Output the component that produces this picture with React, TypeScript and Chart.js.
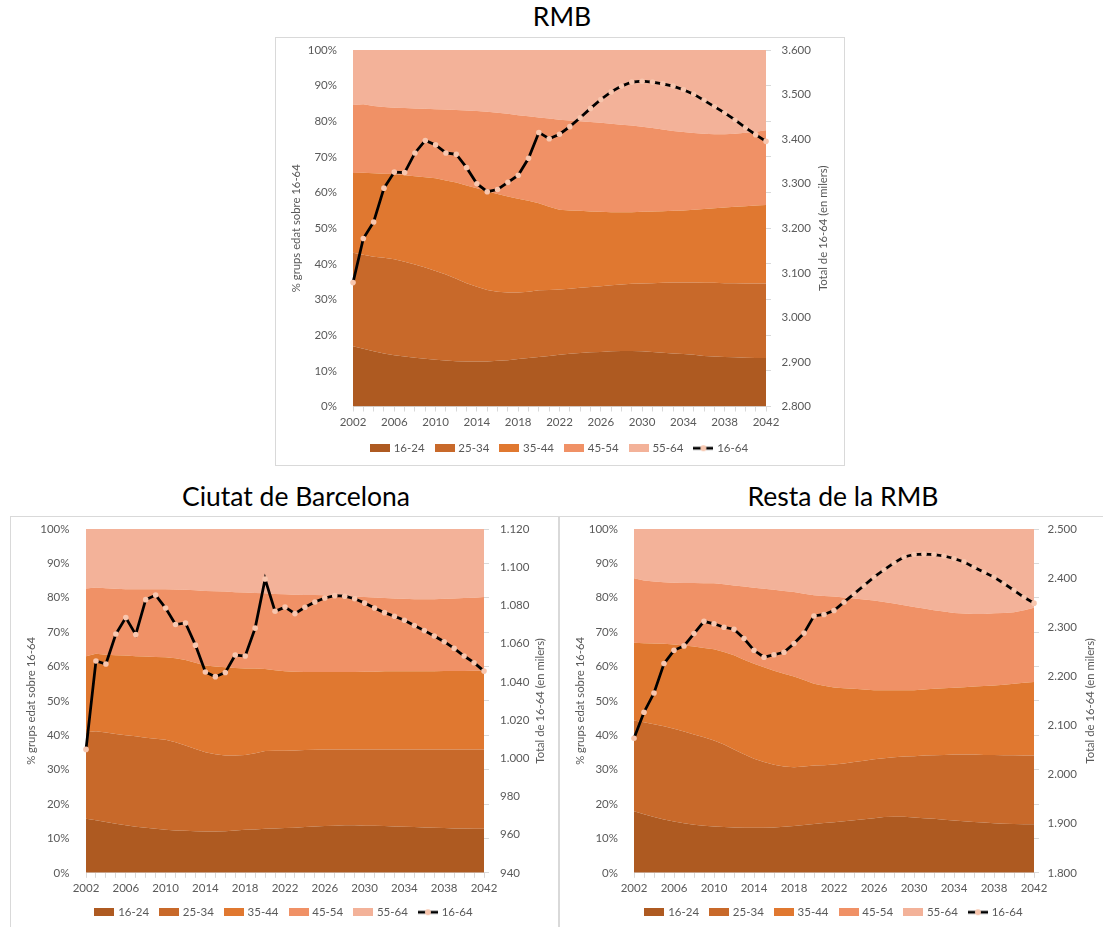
import React, { useEffect, useRef } from 'react';
import { Chart, registerables } from 'chart.js';

Chart.register(...registerables);

// ---------- data ----------
const YEARS = [
  '2002', '2003', '2004', '2005', '2006', '2007', '2008', '2009', '2010', '2011',
  '2012', '2013', '2014', '2015', '2016', '2017', '2018', '2019', '2020', '2021',
  '2022', '2023', '2024', '2025', '2026', '2027', '2028', '2029', '2030', '2031',
  '2032', '2033', '2034', '2035', '2036', '2037', '2038', '2039', '2040', '2041', '2042',
];
const GROUPS = ['16-24', '25-34', '35-44', '45-54', '55-64'];
const TOTAL_LABEL = '16-64';
const LEFT_TITLE = '% grups edat sobre 16-64';
const RIGHT_TITLE = 'Total de 16-64 (en milers)';

// RMB (% share of each age group)
const RMB_1624 = [16.9, 16.2, 15.5, 14.9, 14.4, 14.0, 13.7, 13.4, 13.1, 12.9, 12.7, 12.6, 12.6, 12.6, 12.8, 13.0, 13.3, 13.6, 13.9, 14.2, 14.5, 14.8, 15.0, 15.2, 15.3, 15.5, 15.6, 15.6, 15.5, 15.3, 15.1, 14.9, 14.7, 14.5, 14.2, 14.0, 13.9, 13.8, 13.7, 13.6, 13.6];
const RMB_2534 = [26.2, 26.4, 26.5, 26.8, 26.9, 26.6, 26.1, 25.6, 24.9, 24.1, 23.1, 22.0, 21.0, 20.1, 19.4, 19.0, 18.7, 18.6, 18.7, 18.5, 18.3, 18.2, 18.3, 18.3, 18.4, 18.5, 18.6, 18.8, 19.0, 19.3, 19.6, 19.9, 20.1, 20.3, 20.5, 20.7, 20.7, 20.8, 20.8, 20.9, 20.9];
const RMB_3544 = [22.4, 23.0, 23.4, 23.6, 23.9, 24.3, 24.8, 25.3, 26.0, 26.4, 27.0, 27.4, 27.6, 27.7, 27.4, 26.9, 26.3, 25.5, 24.4, 23.3, 22.4, 22.0, 21.6, 21.2, 20.9, 20.5, 20.3, 20.1, 20.1, 20.1, 20.1, 20.1, 20.2, 20.4, 20.7, 20.9, 21.2, 21.4, 21.7, 21.9, 22.0];
const RMB_4554 = [19.1, 19.2, 18.9, 18.7, 18.6, 18.8, 19.0, 19.2, 19.4, 19.9, 20.4, 21.0, 21.7, 22.3, 22.8, 23.2, 23.4, 23.7, 24.1, 24.8, 25.2, 25.2, 25.1, 25.1, 25.0, 24.8, 24.5, 24.3, 23.9, 23.4, 22.9, 22.4, 22.0, 21.5, 21.1, 20.8, 20.6, 20.5, 20.6, 20.7, 21.0];
const RMB_5564 = [15.4, 15.2, 15.7, 16.0, 16.2, 16.3, 16.4, 16.5, 16.6, 16.7, 16.8, 17.0, 17.1, 17.3, 17.6, 17.9, 18.3, 18.6, 18.9, 19.2, 19.6, 19.8, 20.0, 20.2, 20.4, 20.7, 21.0, 21.2, 21.5, 21.9, 22.3, 22.7, 23.0, 23.3, 23.5, 23.6, 23.6, 23.5, 23.2, 22.9, 22.5];
const RMB_TOTAL = [3078, 3177, 3214, 3290, 3326, 3325, 3369, 3397, 3387, 3369, 3366, 3336, 3300, 3282, 3287, 3303, 3319, 3357, 3415, 3401, 3411, 3428, 3448, 3469, 3489, 3506, 3519, 3528, 3530, 3528, 3524, 3519, 3511, 3501, 3487, 3473, 3459, 3443, 3426, 3410, 3395];

// Ciutat de Barcelona
const BCN_1624 = [15.7, 15.3, 14.8, 14.3, 13.8, 13.4, 13.1, 12.8, 12.5, 12.3, 12.2, 12.1, 12.0, 12.0, 12.1, 12.3, 12.5, 12.6, 12.8, 12.9, 13.0, 13.1, 13.3, 13.5, 13.6, 13.7, 13.8, 13.8, 13.7, 13.7, 13.6, 13.5, 13.4, 13.3, 13.2, 13.1, 13.0, 12.9, 12.9, 12.8, 12.8];
const BCN_2534 = [25.2, 25.9, 26.0, 26.1, 26.2, 26.3, 26.2, 26.2, 26.2, 25.7, 24.8, 23.9, 23.1, 22.5, 22.0, 21.8, 21.8, 22.2, 22.6, 22.6, 22.5, 22.5, 22.4, 22.3, 22.3, 22.2, 22.1, 22.1, 22.2, 22.2, 22.3, 22.4, 22.5, 22.6, 22.7, 22.8, 22.9, 23.0, 23.0, 23.1, 23.1];
const BCN_3544 = [22.1, 22.5, 22.6, 22.9, 23.2, 23.3, 23.6, 23.8, 24.0, 24.4, 24.9, 25.1, 25.2, 25.5, 25.7, 25.5, 25.1, 24.6, 23.9, 23.4, 23.1, 22.9, 22.7, 22.6, 22.5, 22.5, 22.5, 22.5, 22.6, 22.6, 22.7, 22.7, 22.7, 22.7, 22.7, 22.7, 22.8, 22.8, 22.8, 22.9, 22.9];
const BCN_4554 = [19.7, 19.3, 19.4, 19.3, 19.3, 19.5, 19.6, 19.7, 19.8, 20.0, 20.4, 21.1, 21.7, 21.9, 22.0, 22.0, 22.1, 22.0, 22.0, 22.2, 22.4, 22.4, 22.4, 22.4, 22.3, 22.2, 22.1, 21.9, 21.7, 21.6, 21.3, 21.2, 21.1, 21.0, 21.0, 21.0, 21.0, 21.1, 21.2, 21.2, 21.4];
const BCN_5564 = [17.3, 17.0, 17.2, 17.4, 17.5, 17.5, 17.5, 17.5, 17.5, 17.6, 17.7, 17.8, 18.0, 18.1, 18.2, 18.4, 18.5, 18.6, 18.7, 18.9, 19.0, 19.1, 19.2, 19.2, 19.3, 19.4, 19.5, 19.7, 19.8, 19.9, 20.1, 20.2, 20.3, 20.4, 20.4, 20.4, 20.3, 20.2, 20.1, 20.0, 19.8];
const BCN_TOTAL = [1004.6, 1050.9, 1049.3, 1065.0, 1073.6, 1064.7, 1083.0, 1085.4, 1078.6, 1070.0, 1070.8, 1059.2, 1045.1, 1042.7, 1044.9, 1054.0, 1053.5, 1068.1, 1093.8, 1076.9, 1079.1, 1075.7, 1079.0, 1081.8, 1083.9, 1085.1, 1084.8, 1083.5, 1081.2, 1078.6, 1076.2, 1074.3, 1072.2, 1069.5, 1066.8, 1064.0, 1061.0, 1057.5, 1053.5, 1050.0, 1045.6];

// Resta de la RMB
const RES_1624 = [17.9, 17.0, 16.2, 15.5, 14.9, 14.4, 14.0, 13.7, 13.5, 13.3, 13.2, 13.1, 13.1, 13.1, 13.2, 13.4, 13.6, 13.9, 14.2, 14.5, 14.7, 15.0, 15.3, 15.6, 15.9, 16.2, 16.3, 16.3, 16.1, 15.9, 15.7, 15.4, 15.2, 15.0, 14.8, 14.6, 14.4, 14.3, 14.2, 14.1, 14.1];
const RES_2534 = [26.4, 26.8, 27.0, 27.1, 27.0, 26.7, 26.2, 25.7, 25.0, 24.0, 22.7, 21.4, 20.1, 19.1, 18.2, 17.5, 17.1, 17.0, 17.0, 16.8, 16.8, 16.8, 16.9, 17.0, 17.1, 17.1, 17.3, 17.5, 17.8, 18.2, 18.5, 18.9, 19.2, 19.4, 19.6, 19.7, 19.9, 19.9, 20.0, 20.0, 20.0];
const RES_3544 = [22.6, 23.0, 23.5, 24.0, 24.5, 25.0, 25.6, 26.0, 26.5, 26.9, 27.4, 27.5, 27.6, 27.6, 27.4, 27.0, 26.4, 25.2, 23.8, 23.1, 22.4, 21.9, 21.3, 20.7, 20.1, 19.8, 19.5, 19.3, 19.2, 19.2, 19.3, 19.4, 19.4, 19.6, 19.8, 20.0, 20.2, 20.5, 20.8, 21.2, 21.4];
const RES_4554 = [18.8, 18.2, 18.0, 17.9, 18.0, 18.2, 18.5, 18.8, 19.2, 19.7, 20.3, 21.3, 22.1, 22.8, 23.5, 24.1, 24.6, 25.1, 25.7, 26.1, 26.5, 26.4, 26.3, 26.2, 26.1, 25.7, 25.2, 24.7, 24.2, 23.6, 22.9, 22.3, 21.8, 21.4, 21.1, 21.0, 21.0, 20.9, 20.8, 21.1, 21.6];
const RES_5564 = [14.3, 15.0, 15.3, 15.5, 15.6, 15.7, 15.7, 15.8, 15.8, 16.1, 16.4, 16.7, 17.1, 17.4, 17.7, 18.0, 18.3, 18.8, 19.3, 19.5, 19.6, 19.9, 20.2, 20.5, 20.8, 21.2, 21.7, 22.2, 22.7, 23.1, 23.6, 24.0, 24.4, 24.6, 24.7, 24.7, 24.5, 24.4, 24.2, 23.6, 22.9];
const RES_TOTAL = [2074, 2127, 2166, 2226, 2253, 2262, 2287, 2312, 2307, 2300, 2296, 2277, 2253, 2239, 2244, 2249, 2267, 2288, 2323, 2326, 2334, 2351, 2368, 2385, 2402, 2417, 2431, 2443, 2448, 2449, 2448, 2445, 2440, 2433, 2422, 2412, 2402, 2389, 2375, 2361, 2349];

// ---------- styles ----------
const COLORS = ['#AE5A21', '#C8692A', '#E07830', '#F09166', '#F3B299'];
const MARKER = '#F8C6AE';
const TEXT = '#595959';
const AXIS_GREY = '#D9D9D9';
const FONT = 'Lato';
const TICK_SIZE = 11.5;
const AXIS_TITLE_SIZE = 11.3;

const fmtThousands = (v: number) => {
  const n = Math.round(v);
  if (n < 1000) return String(n);
  return Math.floor(n / 1000) + '.' + String(n % 1000).padStart(3, '0');
};

type ChartProps = {
  box: { left: number; top: number; width: number; height: number };
  canvasHeight: number;
  series: number[][];
  total: number[];
  y1: { min: number; max: number; step: number };
  leftWidth: number;
  rightWidth: number;
  leftPad: number;
  rightPad: number;
  padTop: number;
  padBottom: number;
  xHeight: number;
  leftTitleOffset: number;
  rightTitleOffset: number;
};

function makeSwatch(color: string) {
  const c = document.createElement('canvas');
  c.width = 20;
  c.height = 8;
  const g = c.getContext('2d')!;
  g.fillStyle = color;
  g.fillRect(0, 0, 20, 8);
  return c;
}

function makeLineSwatch() {
  const c = document.createElement('canvas');
  c.width = 20;
  c.height = 8;
  const g = c.getContext('2d')!;
  g.strokeStyle = '#000';
  g.lineWidth = 2.75;
  g.beginPath();
  g.moveTo(0, 4);
  g.lineTo(20, 4);
  g.stroke();
  g.fillStyle = MARKER;
  g.beginPath();
  g.arc(10, 4, 3, 0, Math.PI * 2);
  g.fill();
  return c;
}

function AgeChart(p: ChartProps) {
  const ref = useRef<HTMLCanvasElement>(null);
  useEffect(() => {
    if (!ref.current) return;
    const images = [...COLORS.map(makeSwatch), makeLineSwatch()];
    const datasets: any[] = p.series.map((d, i) => ({
      type: 'line',
      label: GROUPS[i],
      data: d,
      yAxisID: 'y',
      backgroundColor: COLORS[i],
      borderColor: 'rgba(0,0,0,0)',
      borderWidth: 0,
      pointRadius: 0,
      pointHoverRadius: 0,
      fill: i === 0 ? 'origin' : '-1',
      tension: 0,
      order: 1,
    }));
    datasets.push({
      type: 'line',
      label: TOTAL_LABEL,
      data: p.total,
      yAxisID: 'y1',
      borderColor: '#000000',
      borderWidth: 2.75,
      pointRadius: 2.8,
      pointBackgroundColor: MARKER,
      pointBorderColor: MARKER,
      pointBorderWidth: 0,
      fill: false,
      tension: 0,
      order: 0,
    });
    const tickFont = { family: FONT, size: TICK_SIZE };
    const rightTitlePlugin = {
      id: 'rightTitle',
      afterDraw(ch: any) {
        const { ctx, chartArea, width } = ch;
        ctx.save();
        ctx.translate(width - p.rightTitleOffset, (chartArea.top + chartArea.bottom) / 2);
        ctx.rotate(-Math.PI / 2);
        ctx.font = `${AXIS_TITLE_SIZE}px ${FONT}`;
        ctx.fillStyle = TEXT;
        ctx.textAlign = 'center';
        ctx.textBaseline = 'middle';
        ctx.fillText(RIGHT_TITLE, 0, 0);
        ctx.restore();
      },
    };
    const noVerticalPadding = (s: any, w: number) => {
      s.width = w;
      s.paddingTop = 0;
      s.paddingBottom = 0;
    };
    const chart = new Chart(ref.current, {
      type: 'line',
      data: { labels: YEARS, datasets },
      plugins: [rightTitlePlugin],
      options: {
        responsive: false,
        animation: false,
        events: [],
        layout: { padding: { top: p.padTop, bottom: p.padBottom, left: 0, right: 0 } },
        plugins: {
          tooltip: { enabled: false },
          legend: {
            position: 'bottom',
            labels: {
              usePointStyle: true,
              pointStyleWidth: 16,
              boxHeight: 8,
              padding: 12,
              color: TEXT,
              font: { family: FONT, size: 11.5 },
              generateLabels: (ch: any) =>
                ch.data.datasets.map((ds: any, i: number) => ({
                  text: ds.label,
                  pointStyle: images[i],
                  fillStyle: 'rgba(0,0,0,0)',
                  strokeStyle: 'rgba(0,0,0,0)',
                  lineWidth: 0,
                  hidden: false,
                  datasetIndex: i,
                  fontColor: TEXT,
                })),
            },
          },
        },
        scales: {
          x: {
            type: 'category',
            offset: false,
            ticks: {
              autoSkip: false,
              maxRotation: 0,
              minRotation: 0,
              padding: 4,
              color: TEXT,
              font: tickFont,
              callback: function (this: any, v: any, i: number) {
                return i % 4 === 0 ? this.getLabelForValue(v) : '';
              },
            },
            grid: { display: true, drawOnChartArea: false, drawTicks: true, tickLength: 5, color: AXIS_GREY },
            border: { display: true, color: AXIS_GREY },
            afterFit: (s: any) => {
              s.height = p.xHeight;
            },
          },
          y: {
            type: 'linear',
            position: 'left',
            stacked: true,
            min: 0,
            max: 100,
            ticks: {
              stepSize: 10,
              padding: p.leftPad,
              color: TEXT,
              font: tickFont,
              callback: (v: any) => v + '%',
            },
            grid: { display: false, drawTicks: false },
            border: { display: false },
            title: {
              display: true,
              text: LEFT_TITLE,
              color: TEXT,
              font: { family: FONT, size: AXIS_TITLE_SIZE },
              padding: { top: p.leftTitleOffset - AXIS_TITLE_SIZE * 0.6, bottom: 0 },
            },
            afterFit: (s: any) => noVerticalPadding(s, p.leftWidth),
          },
          yTicks: {
            type: 'linear',
            position: 'right',
            weight: 0,
            min: 0,
            max: 100,
            ticks: { display: false, stepSize: 10 },
            grid: { display: true, drawOnChartArea: false, drawTicks: true, tickLength: 5, color: AXIS_GREY },
            border: { display: false },
            afterFit: (s: any) => noVerticalPadding(s, 0),
          },
          y1: {
            type: 'linear',
            position: 'right',
            weight: 1,
            min: p.y1.min,
            max: p.y1.max,
            ticks: {
              stepSize: p.y1.step,
              padding: p.rightPad,
              color: TEXT,
              font: tickFont,
              callback: (v: any) => fmtThousands(Number(v)),
            },
            grid: { display: false, drawTicks: false },
            border: { display: false },
            afterFit: (s: any) => noVerticalPadding(s, p.rightWidth),
          },
        },
      } as any,
    });
    return () => chart.destroy();
  }, []);

  return (
    <div
      style={{
        position: 'absolute',
        left: p.box.left,
        top: p.box.top,
        width: p.box.width,
        height: p.box.height,
        border: `1px solid ${AXIS_GREY}`,
        boxSizing: 'border-box',
        background: '#fff',
      }}
    >
      <canvas ref={ref} width={p.box.width - 2} height={p.canvasHeight} style={{ display: 'block' }} />
    </div>
  );
}

function Title({ text, cx, top }: { text: string; cx: number; top: number }) {
  return (
    <div
      style={{
        position: 'absolute',
        left: cx,
        top,
        transform: 'translateX(-50%)',
        fontFamily: FONT,
        fontSize: 26.5,
        lineHeight: '26px',
        color: '#000',
        whiteSpace: 'nowrap',
      }}
    >
      {text}
    </div>
  );
}

export default function App() {
  return (
    <div
      style={{
        position: 'absolute',
        left: 0,
        top: 0,
        width: 1103,
        height: 927,
        overflow: 'hidden',
        background: '#fff',
      }}
    >
      <Title text="RMB" cx={562} top={3} />
      <Title text="Ciutat de Barcelona" cx={296} top={483} />
      <Title text="Resta de la RMB" cx={843} top={483} />

      <AgeChart
        box={{ left: 275, top: 37, width: 570, height: 429 }}
        canvasHeight={427}
        series={[RMB_1624, RMB_2534, RMB_3544, RMB_4554, RMB_5564]}
        total={RMB_TOTAL}
        y1={{ min: 2800, max: 3600, step: 100 }}
        leftWidth={77}
        rightWidth={78}
        leftPad={16}
        rightPad={15.5}
        padTop={12}
        padBottom={1}
        xHeight={24}
        leftTitleOffset={20.5}
        rightTitleOffset={21}
      />
      <AgeChart
        box={{ left: 10, top: 516, width: 549, height: 413 }}
        canvasHeight={411}
        series={[BCN_1624, BCN_2534, BCN_3544, BCN_4554, BCN_5564]}
        total={BCN_TOTAL}
        y1={{ min: 940, max: 1120, step: 20 }}
        leftWidth={75}
        rightWidth={74}
        leftPad={16.5}
        rightPad={16}
        padTop={12}
        padBottom={0}
        xHeight={21.7}
        leftTitleOffset={20.7}
        rightTitleOffset={18}
      />
      <AgeChart
        box={{ left: 559, top: 516, width: 551, height: 413 }}
        canvasHeight={411}
        series={[RES_1624, RES_2534, RES_3544, RES_4554, RES_5564]}
        total={RES_TOTAL}
        y1={{ min: 1800, max: 2500, step: 100 }}
        leftWidth={74}
        rightWidth={75}
        leftPad={16}
        rightPad={13.5}
        padTop={12}
        padBottom={0}
        xHeight={21.7}
        leftTitleOffset={20}
        rightTitleOffset={19}
      />
    </div>
  );
}
